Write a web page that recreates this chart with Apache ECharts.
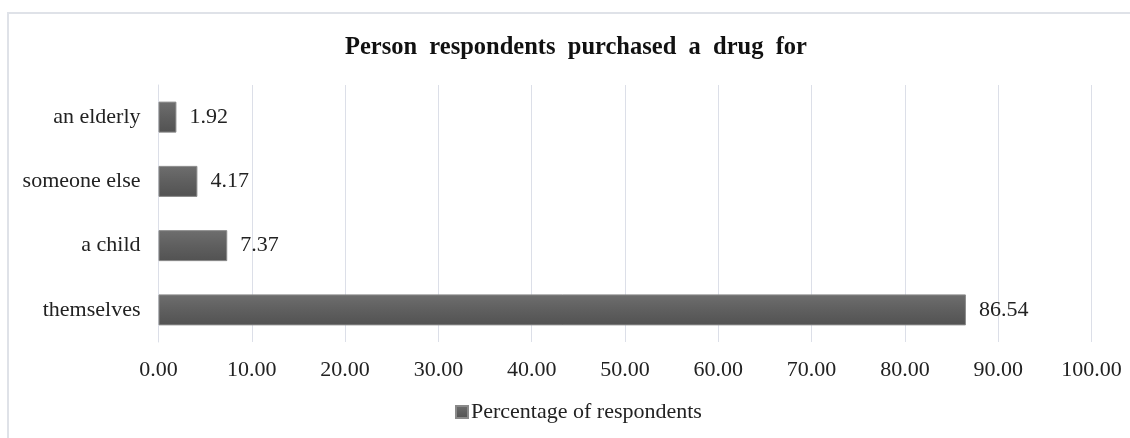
<!DOCTYPE html>
<html>
<head>
<meta charset="utf-8">
<script src="https://cdn.jsdelivr.net/npm/echarts@6/dist/echarts.min.js"></script>
<style>
  html, body { margin: 0; padding: 0; background: #ffffff; }
  #chart { width: 1130px; height: 438px; }
</style>
</head>
<body>
<div id="chart"></div>
<script>
// Who the drug was bought for (bottom-to-top order on the category axis)
const categories = ['themselves', 'a child', 'someone else', 'an elderly'];
const percentages = [86.54, 7.37, 4.17, 1.92];
const seriesName = 'Percentage of respondents';
const titleText = 'Person respondents purchased a drug for';

const serif = '"Liberation Serif", "Times New Roman", serif';

const chart = echarts.init(document.getElementById('chart'), null, { renderer: 'canvas' });

chart.setOption({
  backgroundColor: '#ffffff',
  animation: false,
  graphic: [{
    type: 'rect',
    shape: { x: 8, y: 13, width: 1140, height: 440 },
    style: { fill: 'none', stroke: '#dfe2e8', lineWidth: 2 },
    silent: true,
    z: 0
  }],
  title: {
    // the title is set with wide word spacing
    text: titleText.split(' ').join('  '),
    left: 340,
    top: 30,
    textStyle: {
      fontFamily: serif,
      fontWeight: 'bold',
      fontSize: 24.5,
      color: '#111111'
    }
  },
  legend: {
    bottom: 10,
    left: 450,
    itemWidth: 12,
    itemHeight: 12,
    itemGap: 4,
    icon: 'rect',
    textStyle: { fontFamily: serif, fontSize: 22, color: '#222222', padding: [0, 0, 0, -2] },
    data: [seriesName]
  },
  grid: {
    left: 158.5,
    right: 38.5,
    top: 85,
    bottom: 96,
    containLabel: false
  },
  xAxis: {
    type: 'value',
    min: 0,
    max: 100,
    interval: 10,
    axisLine: { show: false },
    axisTick: { show: false },
    splitLine: { show: true, lineStyle: { color: '#dcdfe8', width: 1 } },
    axisLabel: {
      margin: 17,
      fontFamily: serif,
      fontSize: 22,
      color: '#222222',
      formatter: v => v.toFixed(2)
    }
  },
  yAxis: {
    type: 'category',
    data: categories,
    axisLine: { show: true, lineStyle: { color: '#dcdfe8' } },
    axisTick: { show: false },
    axisLabel: {
      margin: 18,
      fontFamily: serif,
      fontSize: 22,
      color: '#222222'
    }
  },
  series: [{
    name: seriesName,
    type: 'bar',
    data: percentages,
    barWidth: 31,
    itemStyle: {
      color: new echarts.graphic.LinearGradient(0, 0, 0, 1, [
        { offset: 0, color: '#6e6e6e' },
        { offset: 0.5, color: '#5f5f5f' },
        { offset: 1, color: '#525252' }
      ]),
      borderColor: '#8a8a8a',
      borderWidth: 1
    },
    label: {
      show: true,
      position: 'right',
      distance: 13,
      fontFamily: serif,
      fontSize: 22,
      color: '#222222',
      formatter: p => p.value.toFixed(2)
    }
  }]
});
</script>
</body>
</html>
